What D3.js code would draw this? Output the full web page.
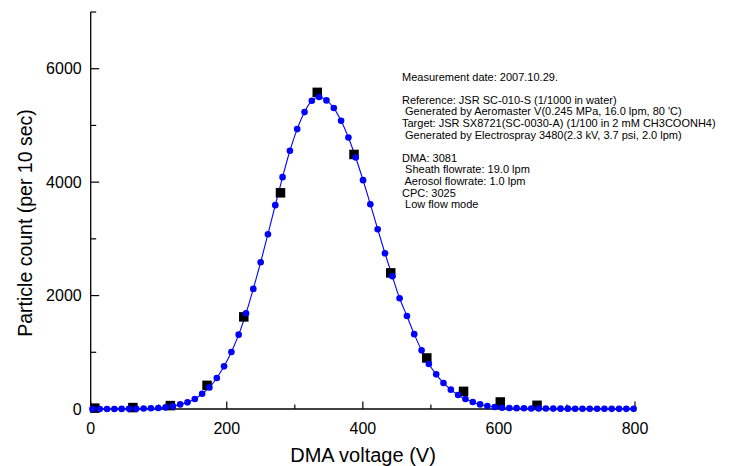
<!DOCTYPE html>
<html>
<head>
<meta charset="utf-8">
<script src="https://cdn.jsdelivr.net/npm/d3@7"></script>
<style>
  body { margin: 0; background: #fff; }
  svg { display: block; }
  text { font-family: "Liberation Sans", Arial, sans-serif; fill: #000; }
</style>
</head>
<body>
<div id="chart"></div>
<script>
// DMA voltage (V) of the fitted/dense scan (blue)
const fitVoltage = [2.5, 13.3, 24, 34.8, 45.5, 56.3, 67, 77.8, 88.5, 99.3,
  110, 120.8, 131.5, 142.3, 153, 163.8, 174.5, 185.3, 196, 206.8,
  217.5, 228.3, 239, 249.8, 260.5, 271.3, 282, 292.8, 303.5, 314.3,
  325, 335.8, 346.5, 357.3, 368, 378.8, 389.5, 400.3, 411, 421.8,
  432.5, 443.3, 454, 464.8, 475.5, 486.3, 497, 507.8, 518.5, 529.3,
  540, 550.8, 561.5, 572.3, 583, 593.8, 604.5, 615.3, 626, 636.8,
  647.5, 658.3, 669, 679.8, 690.5, 701.3, 712, 722.8, 733.5, 744.3,
  755, 765.8, 776.5, 787.3, 798];
const fitCount = [0, 0, 0, 1, 2, 3, 5, 8, 12, 18,
  28, 46, 81, 117, 176, 270, 381, 547, 752, 1006,
  1311, 1687, 2118, 2588, 3082, 3594, 4088, 4554, 4935, 5235,
  5436, 5500, 5441, 5306, 5083, 4788, 4435, 4035, 3611, 3170,
  2746, 2341, 1952, 1640, 1320, 1034, 794, 611, 459, 341,
  247, 176, 124, 81, 53, 35, 23, 18, 15, 12,
  10, 9, 8, 7, 6, 6, 5, 5, 4, 4,
  4, 3, 3, 3, 3];

// measured points (black squares)
const measVoltage = [6, 62, 117, 171, 225, 279, 333, 387, 441, 494, 548, 602, 656];
const measCount = [15, 25, 60, 417, 1624, 3812, 5583, 4488, 2400, 900, 311, 124, 65];

const xTicks = [0, 200, 400, 600, 800];
const xMinor = [100, 300, 500, 700];
const yTicks = [0, 2000, 4000, 6000];
const yMinor = [1000, 3000, 5000, 7000];

const notes = [
  "Measurement date: 2007.10.29.",
  "",
  "Reference: JSR SC-010-S (1/1000 in water)",
  " Generated by Aeromaster V(0.245 MPa, 16.0 lpm, 80 'C)",
  "Target: JSR SX8721(SC-0030-A) (1/100 in 2 mM CH3COONH4)",
  " Generated by Electrospray 3480(2.3 kV, 3.7 psi, 2.0 lpm)",
  "",
  "DMA: 3081",
  " Sheath flowrate: 19.0 lpm",
  " Aerosol flowrate: 1.0 lpm",
  "CPC: 3025",
  " Low flow mode"
];

const width = 732, height = 466;
const margin = { left: 90.7, right: 97, top: 12, bottom: 57 };

const svg = d3.select("#chart").append("svg")
  .attr("width", width).attr("height", height);

const x = d3.scaleLinear().domain([0, 800]).range([margin.left, width - margin.right]);
const y = d3.scaleLinear().domain([0, 7000]).range([height - margin.bottom, margin.top]);

// axes
const xAxis = svg.append("g").attr("transform", `translate(0,${y(0)})`);
xAxis.append("line").attr("x1", x(0)).attr("x2", x(800)).attr("stroke", "#000").attr("stroke-width", 1.3);
xAxis.selectAll(".maj").data(xTicks).enter().append("line")
  .attr("x1", d => x(d)).attr("x2", d => x(d)).attr("y1", 0).attr("y2", -7.5)
  .attr("stroke", "#000").attr("stroke-width", 1.2);
xAxis.selectAll(".min").data(xMinor).enter().append("line")
  .attr("x1", d => x(d)).attr("x2", d => x(d)).attr("y1", 0).attr("y2", -4.5)
  .attr("stroke", "#000").attr("stroke-width", 1.2);
xAxis.selectAll(".lab").data(xTicks).enter().append("text")
  .attr("x", d => x(d)).attr("y", 25).attr("text-anchor", "middle")
  .style("font-size", "16px").text(d => d);

const yAxis = svg.append("g").attr("transform", `translate(${x(0)},0)`);
yAxis.append("line").attr("y1", y(0)).attr("y2", y(7000)).attr("stroke", "#000").attr("stroke-width", 1.3);
yAxis.selectAll(".maj").data(yTicks).enter().append("line")
  .attr("y1", d => y(d)).attr("y2", d => y(d)).attr("x1", 0).attr("x2", 8.5)
  .attr("stroke", "#000").attr("stroke-width", 1.2);
yAxis.selectAll(".min").data(yMinor).enter().append("line")
  .attr("y1", d => y(d)).attr("y2", d => y(d)).attr("x1", 0).attr("x2", 5.5)
  .attr("stroke", "#000").attr("stroke-width", 1.2);
yAxis.selectAll(".lab").data(yTicks).enter().append("text")
  .attr("x", -9).attr("y", d => y(d)).attr("dy", "0.35em").attr("text-anchor", "end")
  .style("font-size", "16px").text(d => d);

// titles
svg.append("text").attr("x", 363).attr("y", 462).attr("text-anchor", "middle")
  .style("font-size", "20px").text("DMA voltage (V)");
svg.append("text").attr("transform", "translate(32,223) rotate(-90)").attr("text-anchor", "middle")
  .style("font-size", "19.5px").text("Particle count (per 10 sec)");

// fitted line + points
const fit = fitVoltage.map((v, i) => [v, fitCount[i]]);
svg.append("path").datum(fit)
  .attr("d", d3.line().x(d => x(d[0])).y(d => y(d[1])).curve(d3.curveCatmullRom))
  .attr("fill", "none").attr("stroke", "#0000ff").attr("stroke-width", 1.1);

// measured squares
const meas = measVoltage.map((v, i) => [v, measCount[i]]);
const sq = 9.5;
svg.selectAll(".sq").data(meas).enter().append("rect")
  .attr("x", d => x(d[0]) - sq / 2).attr("y", d => y(d[1]) - sq / 2)
  .attr("width", sq).attr("height", sq).attr("fill", "#000");

svg.selectAll(".pt").data(fit).enter().append("circle")
  .attr("cx", d => x(d[0])).attr("cy", d => y(d[1])).attr("r", 3.3)
  .attr("fill", "#0000ff");

// notes
svg.append("g").selectAll("text").data(notes).enter().append("text")
  .attr("x", 402).attr("y", (d, i) => 80.5 + i * 11.6)
  .attr("xml:space", "preserve")
  .style("font-size", "11px").style("white-space", "pre")
  .text(d => d);
</script>
</body>
</html>
